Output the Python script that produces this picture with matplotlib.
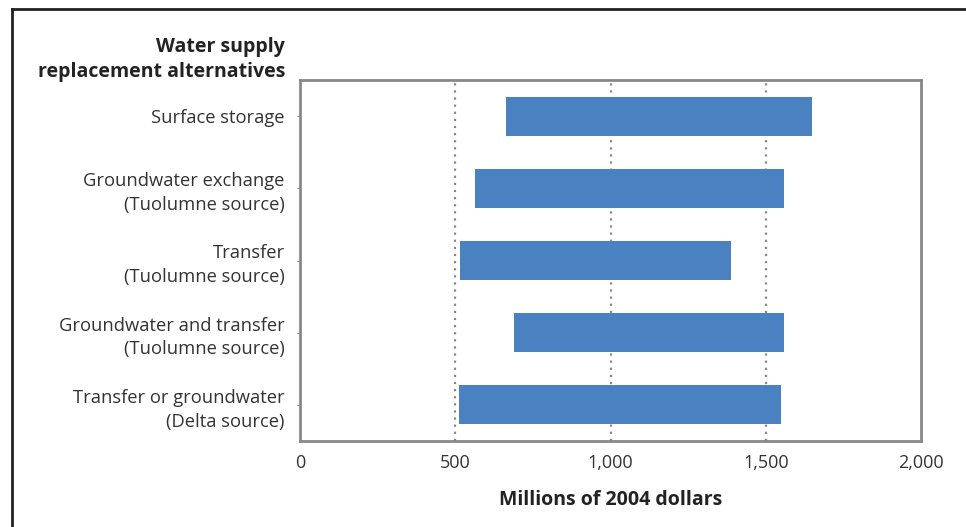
import matplotlib
matplotlib.use("Agg")
import matplotlib.pyplot as plt
from matplotlib.lines import Line2D

plt.rcParams['font.family'] = ['Open Sans', 'DejaVu Sans']

categories = [
    "Surface storage",
    "Groundwater exchange\n(Tuolumne source)",
    "Transfer\n(Tuolumne source)",
    "Groundwater and transfer\n(Tuolumne source)",
    "Transfer or groundwater\n(Delta source)",
]
low_values = [663, 563, 515, 689, 512]
high_values = [1649, 1560, 1389, 1560, 1550]
x_ticks = [0, 500, 1000, 1500, 2000]
x_tick_labels = ["0", "500", "1,000", "1,500", "2,000"]

W, H = 966, 527
fig = plt.figure(figsize=(W / 100, H / 100), dpi=100)
ax = fig.add_axes([300 / W, 1 - 441 / H, 621 / W, 361 / H])

ypos = list(range(len(categories)))
widths = [h - l for l, h in zip(low_values, high_values)]
ax.barh(ypos, widths, left=low_values, height=0.54, color="#4a81c1", zorder=3)

ax.set_xlim(0, 2000)
ax.set_ylim(len(categories) - 0.5, -0.5)
ax.set_xticks(x_ticks)
ax.set_xticklabels(x_tick_labels, fontsize=13, color="#333333")
ax.set_yticks(ypos)
ax.set_yticklabels(categories, fontsize=13.2, color="#333333", linespacing=1.4)
ax.tick_params(axis='x', length=0, pad=9)
ax.tick_params(axis='y', length=2, color="#999999", pad=9)

for x in [500, 1000, 1500]:
    ax.axvline(x, color="#888888", linestyle=(0, (1, 2.2)), linewidth=1.6, zorder=1)

for s in ax.spines.values():
    s.set_color("#888888")
    s.set_linewidth(2)

ax.set_xlabel("Millions of 2004 dollars", fontsize=14, fontweight='bold',
              color="#222222", labelpad=13)

fig.text(285 / W, 1 - 37 / H, "Water supply\nreplacement alternatives",
         ha='right', va='top', fontsize=14, fontweight='bold', color="#222222",
         linespacing=1.35)

# outer frame (top and left edges visible)
fig.add_artist(Line2D([12 / W, 1.0], [1 - 9 / H, 1 - 9 / H], color="#222222",
                      linewidth=2, transform=fig.transFigure))
fig.add_artist(Line2D([12 / W, 12 / W], [0, 1 - 9 / H], color="#222222",
                      linewidth=2, transform=fig.transFigure))

fig.savefig("out.png", dpi=100)
